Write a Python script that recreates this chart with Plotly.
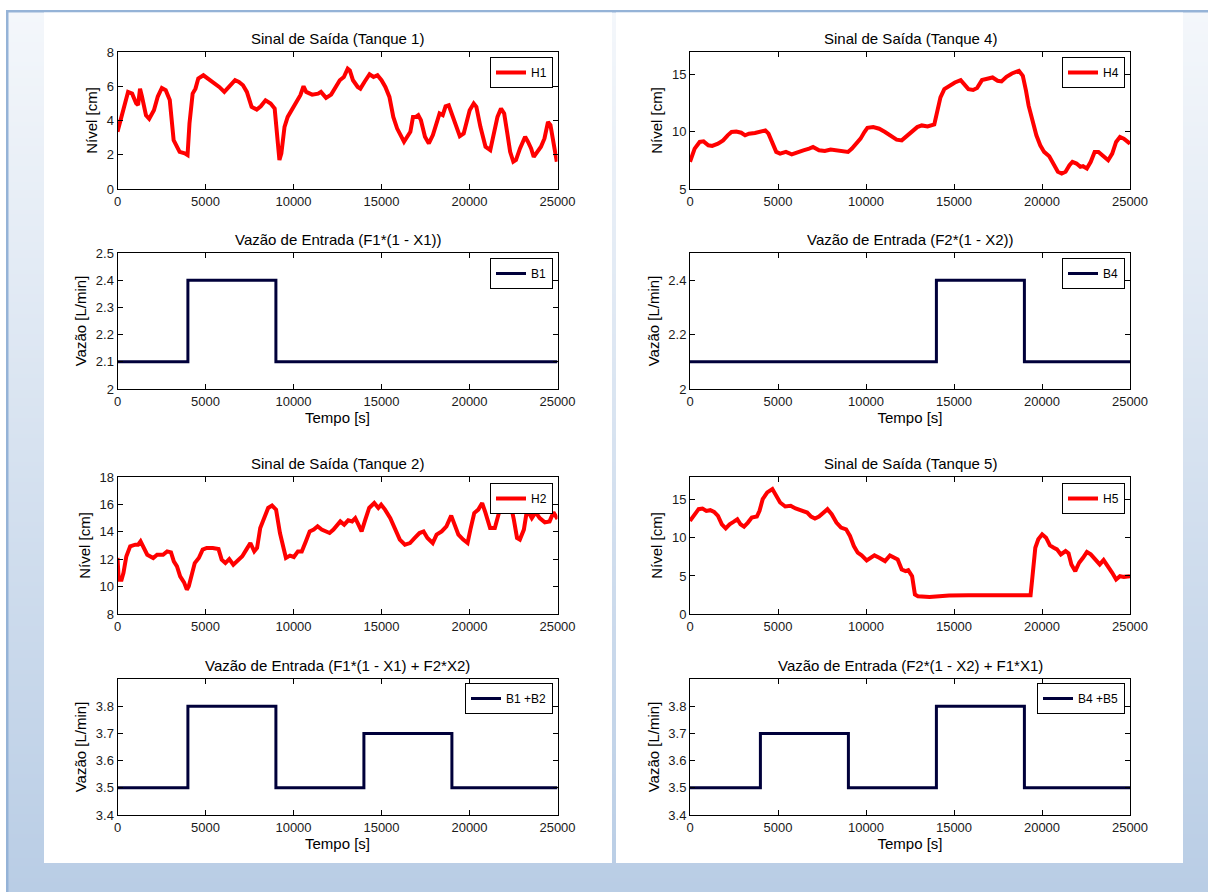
import base64
import struct
import zlib
import plotly.graph_objects as go

# ---------------- data ----------------
T_TICKS = [0, 5000, 10000, 15000, 20000, 25000]
T_LABELS = ["0", "5000", "10000", "15000", "20000", "25000"]

h1_t = [0, 500, 600, 830, 1060, 1170, 1280, 1390, 1620, 1800,
        2070, 2290, 2520, 2740, 2970, 3190, 3350, 3530, 3820, 3980,
        4090, 4270, 4430, 4590, 4880, 5100, 5440, 5780, 6070, 6340,
        6680, 6900, 7130, 7350, 7620, 7910, 8140, 8410, 8700, 8930,
        9040, 9200, 9310, 9490, 9670, 9940, 10210, 10390, 10570, 10720,
        11060, 11400, 11560, 11850, 12140, 12410, 12630, 12860, 13080, 13200,
        13380, 13650, 13800, 14030, 14320, 14550, 14770, 15000, 15220, 15450,
        15670, 15890, 16120, 16280, 16460, 16640, 16790, 16950, 17090, 17240,
        17470, 17690, 17920, 18140, 18300, 18480, 18640, 18820, 19040, 19270,
        19450, 19670, 19830, 20010, 20240, 20390, 20620, 20910, 21180, 21360,
        21590, 21790, 21970, 22150, 22310, 22490, 22640, 22870, 23160, 23320,
        23500, 23650, 23880, 24060, 24260, 24460, 24600, 24780, 24960]
h1_v = [3.34, 5.2, 5.67, 5.57, 5.0, 4.9, 5.86, 5.4, 4.3, 4.1,
        4.6, 5.4, 5.9, 5.77, 5.2, 2.85, 2.47, 2.17, 2.08, 1.98,
        3.83, 5.57, 5.86, 6.45, 6.64, 6.49, 6.25, 5.96, 5.67, 5.96,
        6.35, 6.25, 6.06, 5.67, 4.8, 4.64, 4.83, 5.18, 4.99, 4.7,
        3.63, 1.69, 2.08, 3.63, 4.21, 4.7, 5.18, 5.48, 6.0, 5.67,
        5.51, 5.57, 5.67, 5.32, 5.51, 6.0, 6.35, 6.54, 7.03, 6.93,
        6.35, 5.96, 5.86, 6.25, 6.7, 6.54, 6.64, 6.35, 5.96, 5.38,
        4.21, 3.53, 3.05, 2.76, 3.05, 3.34, 4.21, 4.21, 4.31, 4.02,
        3.05, 2.66, 3.15, 3.83, 4.41, 4.31, 4.83, 4.89, 4.21, 3.63,
        3.09, 3.24, 3.83, 4.6, 4.99, 4.8, 3.63, 2.47, 2.27, 3.05,
        4.21, 4.7, 4.41, 3.24, 2.17, 1.59, 1.69, 2.37, 3.05, 2.76,
        2.37, 1.88, 2.17, 2.47, 2.95, 3.92, 3.73, 2.76, 1.59]

h4_t = [0, 265, 550, 770, 1040, 1260, 1590, 1880, 2140, 2360,
        2630, 2910, 3130, 3350, 3690, 4020, 4280, 4460, 4680, 4900,
        5120, 5450, 5780, 6110, 6440, 6770, 6990, 7330, 7660, 7990,
        8320, 8650, 8980, 9200, 9420, 9690, 9910, 10080, 10410, 10750,
        11080, 11410, 11740, 12030, 12290, 12580, 12910, 13170, 13500, 13880,
        14060, 14230, 14450, 14720, 15050, 15380, 15600, 15820, 16090, 16310,
        16590, 16880, 17190, 17480, 17700, 17980, 18290, 18690, 18910, 19090,
        19240, 19460, 19680, 19900, 20120, 20410, 20670, 20900, 21120, 21340,
        21560, 21730, 21960, 22180, 22330, 22550, 22770, 22990, 23210, 23500,
        23760, 23990, 24210, 24430, 24650, 25000]
h4_v = [7.38, 8.54, 9.12, 9.17, 8.83, 8.77, 8.97, 9.26, 9.7, 9.99,
        10.04, 9.93, 9.7, 9.84, 9.9, 10.04, 10.13, 9.84, 8.97, 8.25,
        8.1, 8.25, 8.04, 8.25, 8.39, 8.54, 8.68, 8.39, 8.33, 8.45,
        8.39, 8.39, 8.25, 8.54, 8.97, 9.41, 9.99, 10.36, 10.42, 10.28,
        9.99, 9.7, 9.32, 9.26, 9.61, 9.99, 10.42, 10.57, 10.48, 10.65,
        11.87, 13.03, 13.75, 14.04, 14.33, 14.54, 14.19, 13.75, 13.67, 13.84,
        14.54, 14.62, 14.77, 14.48, 14.42, 14.83, 15.12, 15.35, 14.91, 13.61,
        12.3, 11.0, 9.7, 8.83, 8.25, 7.87, 7.09, 6.51, 6.36, 6.51,
        7.09, 7.38, 7.23, 6.94, 7.0, 6.8, 7.38, 8.25, 8.25, 7.81,
        7.52, 8.1, 9.12, 9.55, 9.41, 8.97]

h2_t = [0, 70, 230, 340, 500, 720, 1010, 1170, 1310, 1460,
        1690, 2030, 2250, 2590, 2820, 3040, 3200, 3380, 3560, 3780,
        3940, 4050, 4230, 4390, 4620, 4840, 5070, 5410, 5740, 5920,
        6130, 6350, 6580, 6870, 7090, 7320, 7550, 7770, 7930, 8110,
        8330, 8560, 8780, 9010, 9230, 9410, 9570, 9800, 10020, 10250,
        10470, 10700, 10920, 11150, 11370, 11600, 11820, 12050, 12270, 12500,
        12660, 12880, 13110, 13330, 13510, 13690, 13870, 14080, 14300, 14590,
        14820, 14980, 15200, 15500, 15770, 16040, 16330, 16620, 16890, 17160,
        17390, 17610, 17910, 18130, 18420, 18690, 18960, 19140, 19370, 19640,
        19890, 20050, 20270, 20500, 20720, 20900, 21170, 21440, 21620, 21800,
        22070, 22340, 22520, 22700, 22860, 23090, 23270, 23540, 23760, 23990,
        24280, 24550, 24770, 25000]
h2_v = [12.09, 10.5, 10.5, 11.0, 12.2, 12.94, 13.06, 13.06, 13.3, 12.94,
        12.33, 12.09, 12.33, 12.33, 12.57, 12.5, 11.84, 11.48, 10.75, 10.31,
        9.78, 10.02, 11.0, 11.72, 12.09, 12.7, 12.82, 12.82, 12.74, 11.97,
        11.72, 12.01, 11.6, 11.97, 12.21, 12.7, 13.18, 12.57, 12.82, 14.28,
        15.0, 15.74, 15.91, 15.62, 13.91, 12.82, 12.09, 12.26, 12.16, 12.57,
        12.57, 13.3, 14.03, 14.16, 14.4, 14.16, 14.03, 13.91, 14.16, 14.52,
        14.76, 14.52, 14.84, 14.76, 15.0, 14.52, 14.03, 14.89, 15.74, 16.1,
        15.74, 15.98, 15.62, 15.0, 14.16, 13.43, 13.06, 13.18, 13.55, 13.91,
        14.03, 13.55, 13.18, 13.79, 14.03, 14.4, 15.18, 14.52, 13.79, 13.43,
        13.18, 14.16, 15.37, 15.62, 16.1, 15.42, 14.28, 14.28, 15.13, 15.98,
        15.91, 15.98, 14.89, 13.55, 13.43, 14.16, 15.62, 15.0, 15.42, 15.0,
        14.69, 14.76, 15.42, 14.93]

h5_t = [0, 265, 490, 710, 930, 1150, 1370, 1590, 1810, 2030,
        2250, 2470, 2690, 2870, 3070, 3290, 3510, 3800, 3950, 4130,
        4390, 4680, 4900, 5120, 5410, 5720, 6000, 6330, 6660, 6880,
        7100, 7330, 7610, 7810, 8050, 8320, 8580, 8870, 9090, 9310,
        9530, 9750, 10040, 10240, 10480, 10750, 11080, 11360, 11580, 11800,
        12030, 12250, 12400, 12620, 12780, 12950, 13610, 14720, 15820, 16920,
        18030, 18910, 19350, 19460, 19620, 19790, 20010, 20230, 20450, 20670,
        20850, 21070, 21340, 21510, 21670, 21890, 22110, 22330, 22550, 22770,
        22990, 23280, 23500, 23760, 23990, 24210, 24430, 24650, 25000]
h5_v = [12.23, 13.11, 13.77, 13.86, 13.55, 13.64, 13.42, 12.89, 11.79, 11.26,
        11.79, 12.1, 12.45, 11.79, 11.48, 12.01, 12.67, 12.8, 13.55, 15.09,
        15.97, 16.41, 15.53, 14.65, 14.12, 14.21, 13.86, 13.55, 13.33, 12.8,
        12.54, 12.8, 13.33, 13.77, 13.11, 12.01, 11.35, 11.13, 10.25, 8.93,
        8.05, 7.7, 7.04, 7.39, 7.7, 7.39, 6.95, 7.7, 7.39, 7.17,
        5.85, 5.63, 5.76, 4.97, 2.55, 2.33, 2.24, 2.42, 2.46, 2.46,
        2.55, 2.46, 2.46, 4.97, 8.71, 9.81, 10.47, 10.03, 9.02, 8.71,
        8.49, 7.83, 8.27, 7.96, 6.51, 5.63, 6.73, 7.39, 8.14, 7.83,
        7.26, 6.51, 7.08, 6.29, 5.41, 4.53, 4.97, 4.88, 4.97]

b1_t = [0, 4000, 9000, 25000]
b1_v = [2.1, 2.4, 2.1, 2.1]
b4_t = [0, 14000, 19000, 25000]
b4_v = [2.1, 2.4, 2.1, 2.1]
b12_t = [0, 4000, 9000, 14000, 19000, 25000]
b12_v = [3.5, 3.8, 3.5, 3.7, 3.5, 3.5]
b45_t = [0, 4000, 9000, 14000, 19000, 25000]
b45_v = [3.5, 3.7, 3.5, 3.8, 3.5, 3.5]

h1_yticks = [0, 2, 4, 6, 8]
h2_yticks = [8, 10, 12, 14, 16, 18]
h4_yticks = [5, 10, 15]
h5_yticks = [0, 5, 10, 15]
b1_yticks = [2, 2.1, 2.2, 2.3, 2.4, 2.5]
b1_ylabels = ["2", "2.1", "2.2", "2.3", "2.4", "2.5"]
b4_yticks = [2, 2.2, 2.4]
b4_ylabels = ["2", "2.2", "2.4"]
bs_yticks = [3.4, 3.5, 3.6, 3.7, 3.8]
bs_ylabels = ["3.4", "3.5", "3.6", "3.7", "3.8"]

TITLES = ["Sinal de Saída (Tanque 1)", "Vazão de Entrada (F1*(1 - X1))",
          "Sinal de Saída (Tanque 2)", "Vazão de Entrada (F1*(1 - X1) + F2*X2)",
          "Sinal de Saída (Tanque 4)", "Vazão de Entrada (F2*(1 - X2))",
          "Sinal de Saída (Tanque 5)", "Vazão de Entrada (F2*(1 - X2) + F1*X1)"]
NAMES = ["H1", "B1", "H2", "B1 +B2", "H4", "B4", "H5", "B4 +B5"]

# ---------------- layout helpers ----------------
W, H = 1208, 892
RED = "#ff0000"
NAVY = "#00003a"
FONT = "Liberation Sans, Arial, sans-serif"


def fx(x):
    return x / W


def fy(y):
    return 1 - y / H


COLS = [(117.5, 557.5), (690, 1130)]
ROWS = [(52, 189), (253, 389), (477, 614), (679, 815)]
LEG_TOP = [57, 258, 483, 683]
LEG_RIGHT = [553, 1125]

panels = [
    (0, 0, h1_t, h1_v, RED, 4, "linear", [0, 8], h1_yticks, [str(v) for v in h1_yticks], "Nível [cm]", False),
    (0, 1, b1_t, b1_v, NAVY, 3, "hv", [2, 2.5], b1_yticks, b1_ylabels, "Vazão [L/min]", True),
    (0, 2, h2_t, h2_v, RED, 4, "linear", [8, 18], h2_yticks, [str(v) for v in h2_yticks], "Nível [cm]", False),
    (0, 3, b12_t, b12_v, NAVY, 3, "hv", [3.4, 3.9], bs_yticks, bs_ylabels, "Vazão [L/min]", True),
    (1, 0, h4_t, h4_v, RED, 4, "linear", [5, 17], h4_yticks, [str(v) for v in h4_yticks], "Nível [cm]", False),
    (1, 1, b4_t, b4_v, NAVY, 3, "hv", [2, 2.5], b4_yticks, b4_ylabels, "Vazão [L/min]", True),
    (1, 2, h5_t, h5_v, RED, 4, "linear", [0, 18], h5_yticks, [str(v) for v in h5_yticks], "Nível [cm]", False),
    (1, 3, b45_t, b45_v, NAVY, 3, "hv", [3.4, 3.9], bs_yticks, bs_ylabels, "Vazão [L/min]", True),
]


def gradient_png(w, h, top, bottom):
    raw = b""
    for y in range(h):
        f = y / (h - 1)
        c = bytes(int(round(top[i] + (bottom[i] - top[i]) * f)) for i in range(3))
        raw += b"\x00" + c * w

    def chunk(tag, data):
        return (struct.pack(">I", len(data)) + tag + data +
                struct.pack(">I", zlib.crc32(tag + data) & 0xFFFFFFFF))

    ihdr = struct.pack(">IIBBBBB", w, h, 8, 2, 0, 0, 0)
    png = (b"\x89PNG\r\n\x1a\n" + chunk(b"IHDR", ihdr) +
           chunk(b"IDAT", zlib.compress(raw)) + chunk(b"IEND", b""))
    return "data:image/png;base64," + base64.b64encode(png).decode()


fig = go.Figure()
layout = dict(
    width=W, height=H, margin=dict(l=0, r=0, t=0, b=0, pad=0, autoexpand=False),
    paper_bgcolor="white", plot_bgcolor="white",
    font=dict(family=FONT, size=13, color="black"),
    showlegend=True,
)
annotations = []
shapes = []

for i, (col, row, tt, vv, color, lw, shape, yr, ytv, ytt, ytitle, xtitle) in enumerate(panels):
    n = i + 1
    xa = "x" if n == 1 else f"x{n}"
    ya = "y" if n == 1 else f"y{n}"
    leg = "legend" if n == 1 else f"legend{n}"
    fig.add_trace(go.Scatter(
        x=tt, y=vv, mode="lines", name=NAMES[i],
        line=dict(color=color, width=lw, shape=shape),
        xaxis=xa, yaxis=ya, legend=leg, hoverinfo="skip",
    ))
    x0, x1 = COLS[col]
    y0, y1 = ROWS[row]
    axis_common = dict(
        showline=True, linecolor="black", linewidth=1, mirror="ticks",
        ticks="inside", ticklen=5, tickwidth=1, tickcolor="black",
        showgrid=False, zeroline=False, fixedrange=True, automargin=False,
        tickfont=dict(family=FONT, size=13, color="#1a1a1a"),
    )
    layout["xaxis" if n == 1 else f"xaxis{n}"] = dict(
        axis_common, domain=[fx(x0), fx(x1)], range=[0, 25000],
        tickvals=T_TICKS, ticktext=T_LABELS, anchor=ya,
        title=dict(text="Tempo [s]" if xtitle else "", standoff=2,
                   font=dict(family=FONT, size=15, color="black")),
    )
    layout["yaxis" if n == 1 else f"yaxis{n}"] = dict(
        axis_common, domain=[fy(y1), fy(y0)], range=yr,
        tickvals=ytv, ticktext=ytt, anchor=xa,
        title=dict(text=ytitle, standoff=5,
                   font=dict(family=FONT, size=15, color="black")),
    )
    layout[leg] = dict(
        x=fx(LEG_RIGHT[col]), y=fy(LEG_TOP[row]), xanchor="right", yanchor="top",
        bgcolor="white", bordercolor="black", borderwidth=1,
        font=dict(family=FONT, size=12, color="black"),
        itemwidth=30, tracegroupgap=0,
    )
    annotations.append(dict(
        text=TITLES[i], x=fx((x0 + x1) / 2), y=fy(y0), xref="paper", yref="paper",
        xanchor="center", yanchor="bottom", yshift=3, showarrow=False,
        font=dict(family=FONT, size=15, color="black"),
    ))

# page background: gradient, blue frame lines, white panels
images = [dict(
    source=gradient_png(2, 220, (244, 247, 251), (185, 205, 229)),
    xref="paper", yref="paper", x=fx(8), y=fy(12), sizex=(W - 8) / W, sizey=(H - 12) / H,
    xanchor="left", yanchor="top", sizing="stretch", layer="below",
)]
shapes.append(dict(type="rect", xref="paper", yref="paper", x0=fx(6), x1=1, y0=fy(12.5), y1=fy(10),
                   fillcolor="#95b3d7", line=dict(width=0), layer="below"))
shapes.append(dict(type="rect", xref="paper", yref="paper", x0=fx(6), x1=fx(8.5), y0=0, y1=fy(10),
                   fillcolor="#95b3d7", line=dict(width=0), layer="below"))
for px0, px1 in [(44, 612), (616, 1183)]:
    shapes.append(dict(type="rect", xref="paper", yref="paper", x0=fx(px0), x1=fx(px1),
                       y0=fy(863), y1=fy(12.5), fillcolor="white", line=dict(width=0), layer="below"))

layout["annotations"] = annotations
layout["shapes"] = shapes
layout["images"] = images
fig.update_layout(**layout)
fig.write_html("out.html", config={"displayModeBar": False})
